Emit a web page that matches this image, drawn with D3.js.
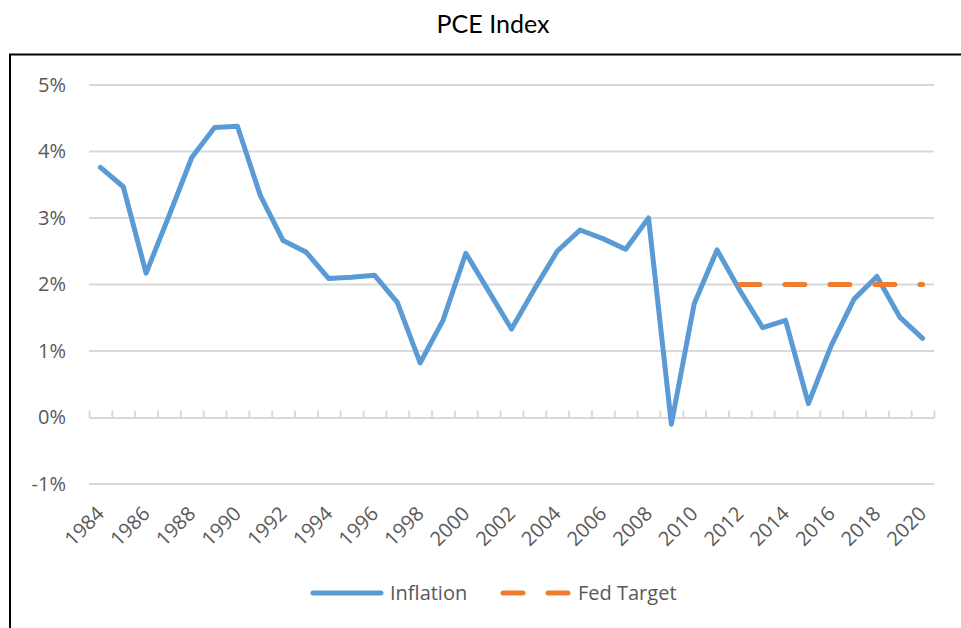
<!DOCTYPE html>
<html>
<head>
<meta charset="utf-8">
<script src="https://cdn.jsdelivr.net/npm/d3@7"></script>
<style>
    body { margin: 0; background: #fff; }
    svg { display: block; }
</style>
</head>
<body>
<div id="chart"></div>
<script>
const years = d3.range(1984, 2021);
const inflation = [3.76, 3.47, 2.17, 3.03, 3.91, 4.36, 4.38, 3.34, 2.66, 2.49,
                   2.09, 2.11, 2.14, 1.73, 0.82, 1.46, 2.47, 1.90, 1.33, 1.93,
                   2.50, 2.82, 2.69, 2.53, 3.00, -0.10, 1.71, 2.52, 1.91, 1.35,
                   1.46, 0.21, 1.08, 1.78, 2.12, 1.51, 1.19];
const fedTarget = [null, null, null, null, null, null, null, null, null, null,
                   null, null, null, null, null, null, null, null, null, null,
                   null, null, null, null, null, null, null, null, 2, 2,
                   2, 2, 2, 2, 2, 2, 2];
const yTicks = [-1, 0, 1, 2, 3, 4, 5];

const width = 961, height = 628;
const margin = {top: 85, right: 27, bottom: 144, left: 89};
const labelColor = '#595959';
const gridColor = '#d9d9d9';
const blue = '#5b9bd5';
const orange = '#ed7d31';

const svg = d3.select('#chart').append('svg')
    .attr('width', width)
    .attr('height', height);

// chart frame (only left and top edges are visible)
svg.append('path')
    .attr('d', `M10,${height} L10,54.5 L${width},54.5`)
    .attr('fill', 'none')
    .attr('stroke', '#000')
    .attr('stroke-width', 2);

svg.append('text')
    .attr('x', 493)
    .attr('y', 33)
    .attr('text-anchor', 'middle')
    .style('font-family', 'Lato, sans-serif')
    .style('font-size', '25px')
    .attr('fill', '#000')
    .text('PCE Index');

const x = d3.scaleBand()
    .domain(years)
    .range([margin.left, width - margin.right])
    .padding(0);

const xEdge = d3.scaleLinear()
    .domain([0, years.length])
    .range([margin.left, width - margin.right]);

const y = d3.scaleLinear()
    .domain([-1, 5])
    .range([484, margin.top]);

const cx = d => x(d) + x.bandwidth() / 2;

// gridlines
svg.append('g')
    .selectAll('line')
    .data(yTicks.filter(d => d !== 0))
    .enter().append('line')
    .attr('x1', margin.left)
    .attr('x2', width - margin.right)
    .attr('y1', d => y(d))
    .attr('y2', d => y(d))
    .attr('stroke', gridColor)
    .attr('stroke-width', 2);

// y labels
const yAxis = svg.append('g')
    .attr('transform', `translate(${margin.left},0)`)
    .call(d3.axisLeft(y).tickValues(yTicks).tickSize(0).tickPadding(23).tickFormat(d => d + '%'));
yAxis.select('.domain').remove();
yAxis.selectAll('text')
    .style('font-family', '"Open Sans", sans-serif')
    .style('font-size', '20px')
    .attr('fill', labelColor);

// category axis at 0% with tick marks between categories
const zeroAxis = svg.append('g')
    .attr('transform', `translate(0,${y(0)})`)
    .call(d3.axisTop(xEdge).tickValues(d3.range(years.length + 1)).tickSize(7).tickSizeOuter(0).tickFormat(''));
zeroAxis.selectAll('line, path')
    .attr('stroke', gridColor)
    .attr('stroke-width', 2);

// x labels, placed low under the plot
const xAxis = svg.append('g')
    .attr('transform', `translate(0,${y(-1)})`)
    .call(d3.axisBottom(x).tickValues(years.filter(d => d % 2 === 0)).tickSize(0));
xAxis.select('.domain').remove();
xAxis.selectAll('text')
    .attr('x', 0)
    .attr('y', 0)
    .attr('dy', null)
    .attr('text-anchor', 'end')
    .attr('transform', 'translate(5,31) rotate(-45)')
    .style('font-family', '"Open Sans", sans-serif')
    .style('font-size', '20px')
    .attr('fill', labelColor);

const line = d3.line()
    .defined(d => d[1] != null)
    .x(d => cx(d[0]))
    .y(d => y(d[1]));

svg.append('path')
    .datum(years.map((yr, i) => [yr, inflation[i]]))
    .attr('d', line)
    .attr('fill', 'none')
    .attr('stroke', blue)
    .attr('stroke-width', 5)
    .attr('stroke-linejoin', 'round')
    .attr('stroke-linecap', 'round');

svg.append('path')
    .datum(years.map((yr, i) => [yr, fedTarget[i]]))
    .attr('d', line)
    .attr('fill', 'none')
    .attr('stroke', orange)
    .attr('stroke-width', 5)
    .attr('stroke-dasharray', '20,25')
    .attr('stroke-linecap', 'round');

// legend
const legend = svg.append('g').attr('transform', 'translate(0,593)');
const items = [
    {name: 'Inflation', color: blue, x0: 313, x1: 381, dash: null, tx: 390},
    {name: 'Fed Target', color: orange, x0: 503, x1: 568, dash: '20,25', tx: 578}
];
items.forEach(it => {
    legend.append('line')
        .attr('x1', it.x0).attr('x2', it.x1)
        .attr('stroke', it.color)
        .attr('stroke-width', 5)
        .attr('stroke-linecap', 'round')
        .attr('stroke-dasharray', it.dash);
    legend.append('text')
        .attr('x', it.tx)
        .attr('y', 7)
        .style('font-family', '"Open Sans", sans-serif')
        .style('font-size', '20px')
        .attr('fill', labelColor)
        .text(it.name);
});
</script>
</body>
</html>
